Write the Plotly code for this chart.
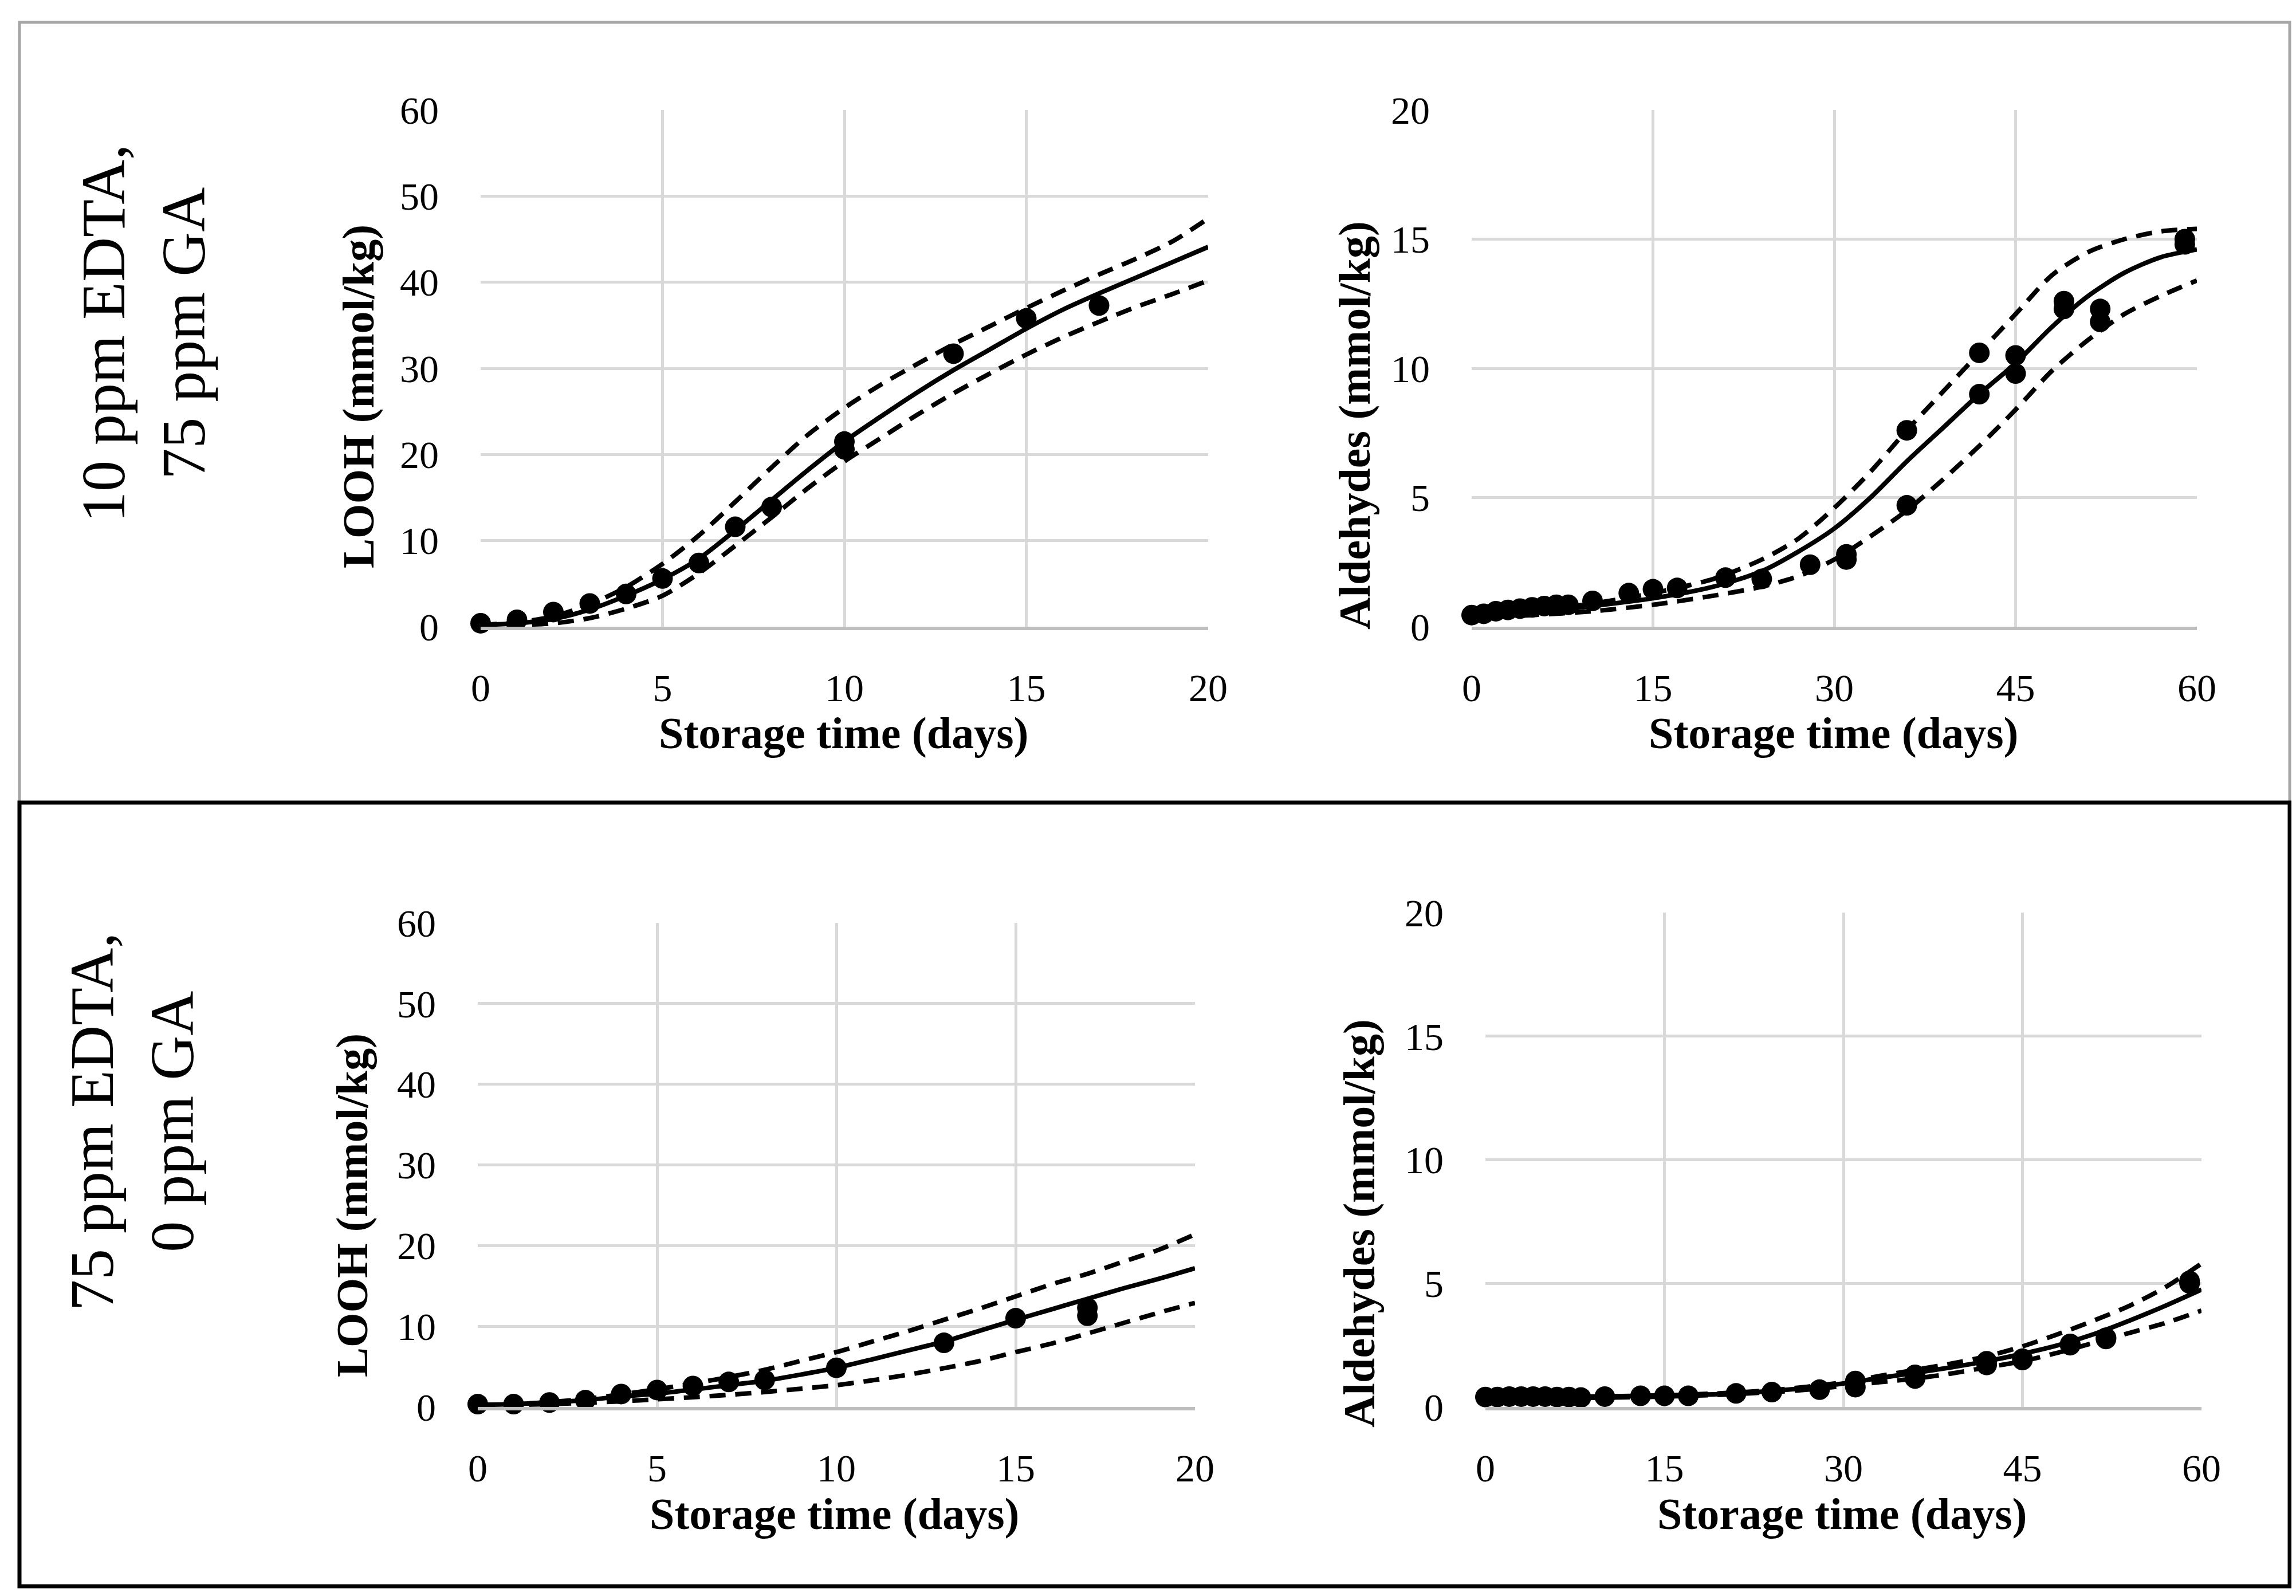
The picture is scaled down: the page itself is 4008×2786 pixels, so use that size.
import plotly.graph_objects as go

W, H = 4008, 2786

# ---------------- DATA ----------------
# Panel A: 10 ppm EDTA, 75 ppm GA
looh_a_days = [0, 1, 2, 3, 4, 5, 6, 7, 8, 10, 10, 13, 15, 17]
looh_a_vals = [0.4, 0.8, 1.7, 2.7, 3.8, 5.6, 7.4, 11.6, 13.9, 21.5, 20.6, 31.7, 35.8, 37.3]
looh_fit_days = [0, 1, 2, 3, 4, 5, 6, 7, 8, 9, 10, 11, 12, 13, 14, 15, 16, 17, 18, 19, 20]
looh_a_fit = [0.2, 0.4, 0.9, 2.0, 3.6, 5.5, 7.9, 11.2, 14.7, 18.2, 21.5, 24.4, 27.2, 29.8, 32.2, 34.6, 36.8, 38.7, 40.5, 42.3, 44.1]
looh_a_upper = [0.2, 0.5, 1.2, 2.6, 4.6, 7.3, 10.6, 14.5, 18.5, 22.3, 25.4, 28.1, 30.5, 32.8, 34.9, 37.0, 39.0, 40.9, 42.7, 44.7, 47.4]
looh_a_lower = [0.1, 0.2, 0.4, 1.0, 2.1, 3.6, 6.2, 9.4, 12.7, 16.1, 19.2, 21.9, 24.6, 27.1, 29.4, 31.6, 33.6, 35.4, 37.1, 38.6, 40.2]

ald_days = [0, 1, 2, 3, 4, 5, 6, 7, 8, 10, 13, 15, 17, 21, 24, 28, 31, 31, 36, 36,
            42, 42, 45, 45, 49, 49, 52, 52, 59, 59]
ald_a_vals = [0.45, 0.5, 0.6, 0.65, 0.7, 0.75, 0.8, 0.85, 0.85, 1.0, 1.3, 1.45, 1.5, 1.9, 1.85, 2.4, 2.8, 2.6, 7.6, 4.7,
              10.6, 9.0, 10.5, 9.8, 12.6, 12.3, 12.3, 11.8, 15.0, 14.8]
ald_fit_days = [0, 5, 10, 15, 20, 24, 27, 30, 33, 36, 39, 42, 45, 48, 51, 54, 57, 60]
ald_a_fit = [0.4, 0.55, 0.8, 1.1, 1.55, 2.15, 2.9, 3.8, 5.0, 6.4, 7.7, 9.0, 10.2, 11.6, 12.8, 13.7, 14.3, 14.6]
ald_a_upper = [0.4, 0.6, 0.9, 1.3, 1.85, 2.6, 3.4, 4.6, 6.0, 7.6, 9.1, 10.6, 12.1, 13.6, 14.5, 15.0, 15.3, 15.4]
ald_a_lower = [0.35, 0.45, 0.6, 0.85, 1.2, 1.55, 1.95, 2.6, 3.5, 4.5, 5.7, 7.0, 8.4, 9.9, 11.1, 12.1, 12.8, 13.4]

# Panel B: 75 ppm EDTA, 0 ppm GA
looh_b_days = [0, 1, 2, 3, 4, 5, 6, 7, 8, 10, 13, 15, 17, 17]
looh_b_vals = [0.35, 0.35, 0.55, 0.85, 1.6, 2.1, 2.6, 3.1, 3.35, 4.85, 7.95, 11.0, 12.3, 11.3]
looh_b_fit = [0.25, 0.35, 0.55, 0.85, 1.3, 1.65, 2.15, 2.7, 3.25, 4.0, 4.85, 5.9, 7.0, 8.1, 9.45, 10.8, 12.1, 13.4, 14.7, 15.9, 17.2]
looh_b_upper = [0.25, 0.35, 0.6, 1.0, 1.55, 2.2, 2.9, 3.7, 4.6, 5.7, 6.8, 8.1, 9.4, 10.8, 12.2, 13.7, 15.2, 16.5, 18.0, 19.5, 21.4]
looh_b_lower = [0.2, 0.25, 0.35, 0.5, 0.7, 0.95, 1.2, 1.5, 1.85, 2.25, 2.7, 3.3, 4.0, 4.8, 5.7, 6.8, 7.85, 9.1, 10.4, 11.7, 12.9]

ald_b_vals = [0.4, 0.4, 0.42, 0.42, 0.42, 0.42, 0.4, 0.4, 0.38, 0.42, 0.45, 0.45, 0.45, 0.55, 0.6, 0.7, 1.05, 0.8, 1.3, 1.15,
              1.85, 1.7, 1.95, 1.9, 2.55, 2.5, 2.8, 2.75, 5.1, 5.0]
ald_b_fit = [0.4, 0.4, 0.42, 0.46, 0.53, 0.65, 0.77, 0.95, 1.17, 1.38, 1.6, 1.85, 2.15, 2.5, 2.95, 3.5, 4.1, 4.75]
ald_b_upper = [0.4, 0.4, 0.43, 0.47, 0.56, 0.68, 0.82, 1.0, 1.25, 1.5, 1.75, 2.05, 2.45, 2.95, 3.5, 4.1, 4.85, 5.8]
ald_b_lower = [0.35, 0.36, 0.38, 0.42, 0.5, 0.6, 0.7, 0.85, 1.0, 1.15, 1.35, 1.6, 1.85, 2.2, 2.6, 3.0, 3.4, 3.9]

row_labels = ["10 ppm EDTA,<br>75 ppm GA", "75 ppm EDTA,<br>0 ppm GA"]
x_title = "Storage time (days)"
y_title_looh = "LOOH (mmol/kg)"
y_title_ald = "Aldehydes (mmol/kg)"

# ---------------- LAYOUT HELPERS ----------------
def px_x(p):
    return p / W

def px_y(p):
    return 1 - p / H

FONT = "Liberation Serif"

panels = [
    # (xaxis id, yaxis id, x px range, y px range, xmax, xdtick, ymax, ydtick)
    ("x", "y", (831, 2101), (184, 1086), 20, 5, 60, 10),
    ("x2", "y2", (2561, 3827), (184, 1086), 60, 15, 20, 5),
    ("x3", "y3", (826, 2078), (1603, 2448), 20, 5, 60, 10),
    ("x4", "y4", (2585, 3835), (1585, 2448), 60, 15, 20, 5),
]

series = [
    (looh_a_days, looh_a_vals, looh_fit_days, looh_a_fit, looh_a_upper, looh_a_lower),
    (ald_days, ald_a_vals, ald_fit_days, ald_a_fit, ald_a_upper, ald_a_lower),
    (looh_b_days, looh_b_vals, looh_fit_days, looh_b_fit, looh_b_upper, looh_b_lower),
    (ald_days, ald_b_vals, ald_fit_days, ald_b_fit, ald_b_upper, ald_b_lower),
]

fig = go.Figure()

for (xa, ya, _, _, _, _, _, _), (pd_, pv, fd, fit, up, lo) in zip(panels, series):
    for vals in (up, lo):
        fig.add_trace(go.Scatter(x=fd, y=vals, mode="lines", xaxis=xa, yaxis=ya,
                                 line=dict(color="black", width=8, dash="28px,17px", shape="spline", smoothing=0.8),
                                 cliponaxis=False, showlegend=False, hoverinfo="skip"))
    fig.add_trace(go.Scatter(x=fd, y=fit, mode="lines", xaxis=xa, yaxis=ya,
                             line=dict(color="black", width=8, shape="spline", smoothing=0.8),
                             cliponaxis=False, showlegend=False, hoverinfo="skip"))
    fig.add_trace(go.Scatter(x=pd_, y=pv, mode="markers", xaxis=xa, yaxis=ya,
                             marker=dict(color="black", size=36, line=dict(width=0)),
                             cliponaxis=False, showlegend=False))

layout = dict(
    width=W, height=H,
    margin=dict(l=0, r=0, t=0, b=0, pad=0, autoexpand=False),
    paper_bgcolor="white", plot_bgcolor="white",
    font=dict(family=FONT, color="black"),
    showlegend=False,
)

for (xa, ya, xr, yr, xmax, xdt, ymax, ydt) in panels:
    xkey = "xaxis" + xa[1:]
    ykey = "yaxis" + ya[1:]
    layout[xkey] = dict(
        domain=[px_x(xr[0]), px_x(xr[1])], anchor=ya, range=[0, xmax], dtick=xdt, tick0=0,
        showgrid=True, gridcolor="#D9D9D9", gridwidth=5, zeroline=False, automargin=False,
        showline=True, linecolor="#BFBFBF", linewidth=6, ticks="",
        tickfont=dict(family=FONT, size=68, color="black"), ticklabelstandoff=42,
    )
    layout[ykey] = dict(
        domain=[px_y(yr[1]), px_y(yr[0])], anchor=xa, range=[0, ymax], dtick=ydt, tick0=0,
        showgrid=True, gridcolor="#D9D9D9", gridwidth=5, zeroline=False, automargin=False,
        showline=False, ticks="",
        tickfont=dict(family=FONT, size=68, color="black"), ticklabelstandoff=72,
    )

fig.update_layout(**layout)

ann = []
def add_text(text, cx, cy, size, bold=False, angle=0):
    t = "<b>" + text + "</b>" if bold else text
    ann.append(dict(text=t, x=px_x(cx), y=px_y(cy), xref="paper", yref="paper",
                    xanchor="center", yanchor="middle", showarrow=False, textangle=angle,
                    font=dict(family=FONT, size=size, color="black")))

# axis titles
add_text(x_title, 1465, 1272, 78, bold=True)
add_text(x_title, 3193, 1272, 78, bold=True)
add_text(x_title, 1449, 2634, 78, bold=True)
add_text(x_title, 3208, 2634, 78, bold=True)
add_text(y_title_looh, 617, 684, 78, bold=True, angle=-90)
add_text(y_title_ald, 2357, 735, 78, bold=True, angle=-90)
add_text(y_title_looh, 606, 2096, 78, bold=True, angle=-90)
add_text(y_title_ald, 2364, 2128, 78, bold=True, angle=-90)
# row labels
add_text(row_labels[0], 242, 574, 108, angle=-90)
add_text(row_labels[1], 222, 1950, 108, angle=-90)

shapes = [
    dict(type="rect", xref="paper", yref="paper", x0=px_x(26), x1=px_x(3989), y0=px_y(1393), y1=px_y(31),
         line=dict(color="#A6A6A6", width=5), fillcolor="rgba(0,0,0,0)", layer="above"),
    dict(type="rect", xref="paper", yref="paper", x0=px_x(26), x1=px_x(3989), y0=px_y(2761), y1=px_y(1393),
         line=dict(color="black", width=7), fillcolor="rgba(0,0,0,0)", layer="above"),
]
fig.update_layout(annotations=ann, shapes=shapes)

fig.write_html("out.html")
